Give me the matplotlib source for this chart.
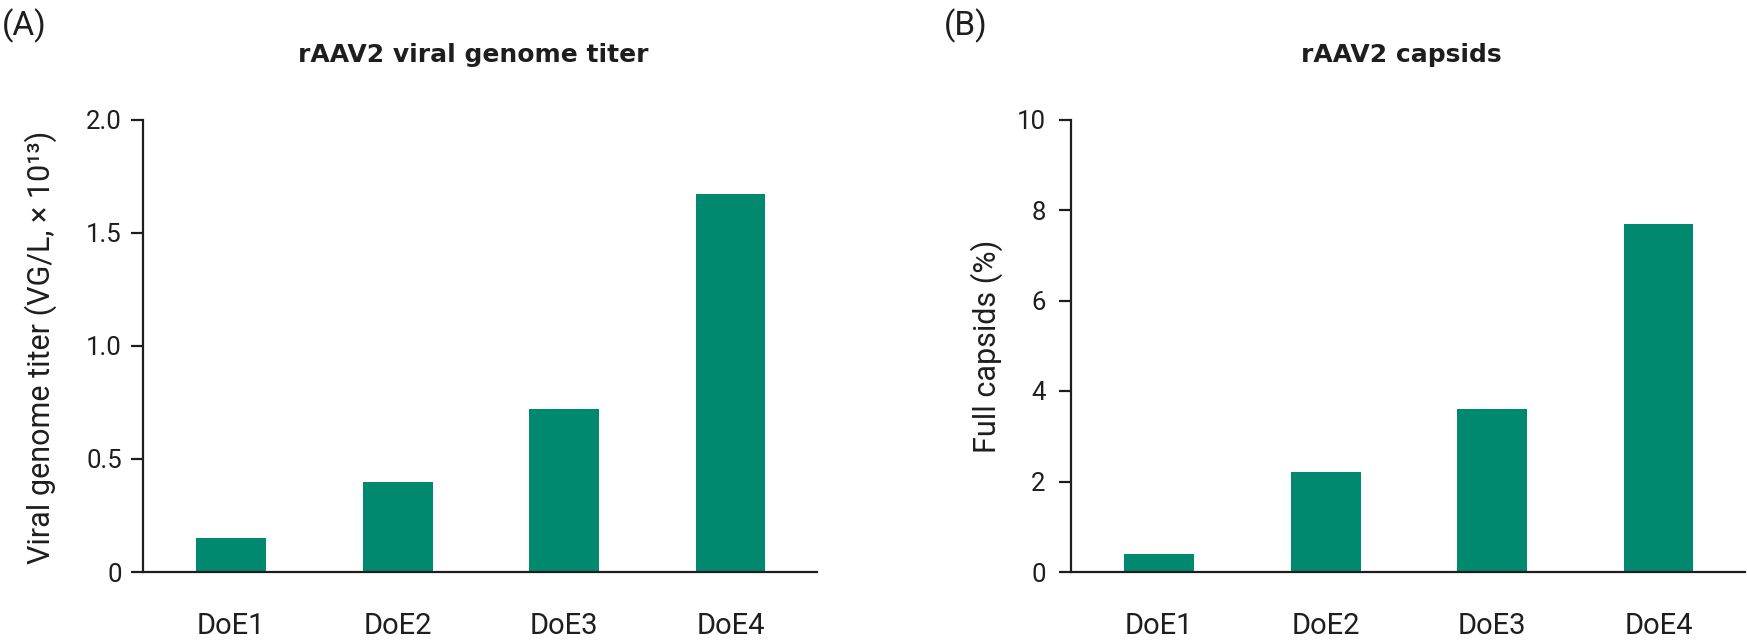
import matplotlib
matplotlib.use("Agg")
import matplotlib.pyplot as plt

categories = ["DoE1", "DoE2", "DoE3", "DoE4"]
titer_values = [0.15, 0.40, 0.72, 1.67]
capsid_values = [0.4, 2.2, 3.6, 7.7]
titer_ticks = [0, 0.5, 1.0, 1.5, 2.0]
titer_ticklabels = ["0", "0.5", "1.0", "1.5", "2.0"]
capsid_ticks = [0, 2, 4, 6, 8, 10]
capsid_ticklabels = ["0", "2", "4", "6", "8", "10"]

plt.rcParams['font.family'] = ['Roboto', 'DejaVu Sans']

W, H = 1747, 642
fig = plt.figure(figsize=(W / 100, H / 100), dpi=100)

BAR = "#00896F"
INK = "#1e1e1e"

def px_axes(x0, x1, ytop, ybot):
    return [x0 / W, 1 - ybot / H, (x1 - x0) / W, (ybot - ytop) / H]

def style(ax, ticks, ticklabels, ymax, ypad):
    ax.set_xlim(-0.53, 3.52)
    ax.set_ylim(0, ymax)
    for s in ("top", "right"):
        ax.spines[s].set_visible(False)
    for s in ("left", "bottom"):
        ax.spines[s].set_linewidth(1.6)
        ax.spines[s].set_color(INK)
    ax.set_yticks(ticks)
    ax.set_yticklabels(ticklabels)
    ax.set_xticks(range(len(categories)))
    ax.set_xticklabels(categories)
    ax.tick_params(axis="x", length=0, pad=28.5, labelsize=21, labelcolor=INK)
    ax.tick_params(axis="y", length=8.3, width=1.6, color=INK, pad=ypad,
                   labelsize=18.5, labelcolor=INK)

ax1 = fig.add_axes(px_axes(143, 817, 119.5, 572))
ax1.bar(range(len(categories)), titer_values, width=0.42, color=BAR)
style(ax1, titer_ticks, titer_ticklabels, 2.0, 7)

ax2 = fig.add_axes(px_axes(1071, 1745, 119.5, 572))
ax2.bar(range(len(categories)), capsid_values, width=0.42, color=BAR)
style(ax2, capsid_ticks, capsid_ticklabels, 10, 10)

def ftext(x, y, s, **kw):
    fig.text(x / W, 1 - y / H, s, **kw)

ftext(41, 347, "Viral genome titer (VG/L, \u00d7 10\u00b9\u00b3)", rotation=90,
      ha="center", va="center", fontsize=22, color=INK)
ftext(987, 346, "Full capsids (%)", rotation=90, ha="center", va="center",
      fontsize=22, color=INK)

ftext(473, 62, "rAAV2 viral genome titer", ha="center", va="baseline",
      fontsize=18, fontweight="bold", color=INK, family="DejaVu Sans")
ftext(1401, 62, "rAAV2 capsids", ha="center", va="baseline",
      fontsize=18, fontweight="bold", color=INK, family="DejaVu Sans")

ftext(2, 35, "(A)", ha="left", va="baseline", fontsize=24, color=INK)
ftext(944, 35, "(B)", ha="left", va="baseline", fontsize=24, color=INK)

fig.savefig("out.png", dpi=100)
